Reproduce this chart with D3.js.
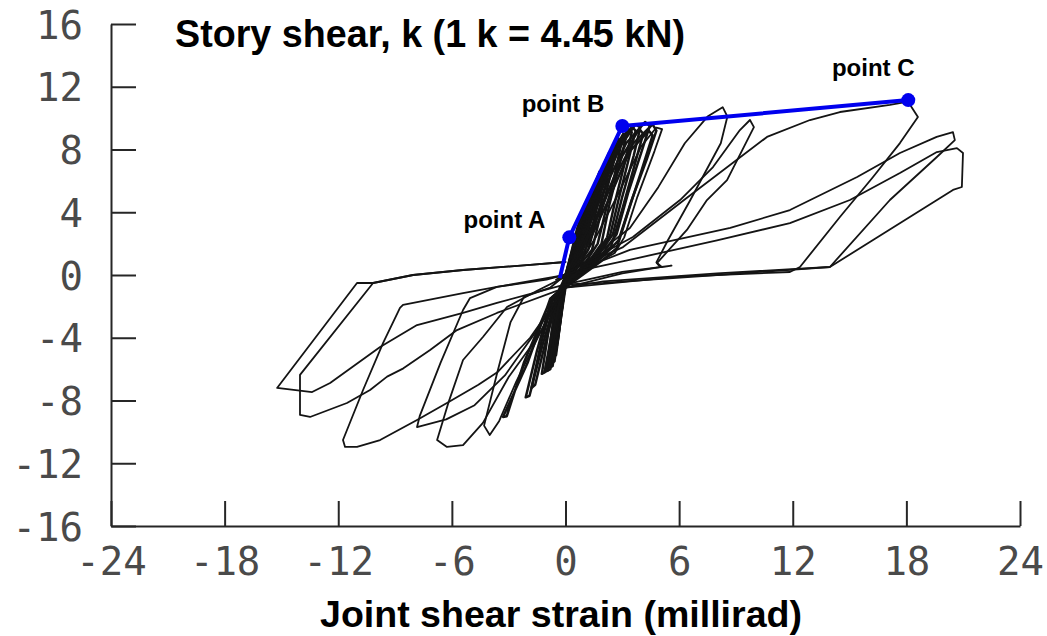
<!DOCTYPE html>
<html>
<head>
<meta charset="utf-8">
<script src="https://cdn.jsdelivr.net/npm/d3@7"></script>
<style>
  html, body { margin: 0; padding: 0; background: #fff; }
  svg { display: block; }
</style>
</head>
<body>
<svg id="chart" width="1047" height="636"></svg>
<script>
// Axis ticks
const xTicks = [-24, -18, -12, -6, 0, 6, 12, 18, 24];
const xTickLabels = ["-24", "-18", "-12", "-6", "0", "6", "12", "18", "24"];
const yTicks = [-16, -12, -8, -4, 0, 4, 8, 12, 16];
const yTickLabels = ["-16", "-12", "-8", "-4", "0", "4", "8", "12", "16"];

// Recorded hysteresis: [joint shear strain (millirad), story shear (k)]
// Early small-amplitude cycles around the origin
const earlyCycles = [
  [[0,0],[0.3,1.4],[0.6,2.9],[0.8,3.6],[0.9,3.3],[0.7,2.0],[0.4,0.6],[0.1,-0.3],[-0.2,-1.6],[-0.35,-3.2],[-0.3,-3.0],[-0.1,-1.4],[0,0]],
  [[0,-0.1],[0.4,1.8],[0.8,3.6],[1.1,4.6],[1.25,4.4],[1.0,3.0],[0.6,1.2],[0.2,0.1],[-0.15,-1.0],[-0.35,-3.0],[-0.5,-4.4],[-0.42,-4.3],[-0.2,-2.2],[0,-0.3]],
  [[0,0],[0.5,2.1],[0.9,3.8],[1.2,4.9],[1.35,4.7],[1.1,3.2],[0.8,1.6],[0.4,0.4],[-0.1,-0.6],[-0.3,-2.2],[-0.45,-4.0],[-0.38,-3.8],[-0.15,-1.8],[0.05,-0.2]],
  [[0,-0.2],[0.55,2.3],[1.0,4.0],[1.4,5.4],[1.65,6.1],[1.8,5.8],[1.4,4.0],[1.0,2.2],[0.5,0.6],[-0.2,-0.7],[-0.45,-3.4],[-0.6,-5.2],[-0.5,-5.1],[-0.25,-2.8],[0,-0.4]],
  [[0,-0.2],[0.6,2.2],[1.1,4.2],[1.5,5.6],[1.8,6.6],[1.95,6.3],[1.6,4.6],[1.2,2.8],[0.8,1.2],[0.3,0.3],[-0.2,-0.7],[-0.4,-2.6],[-0.55,-4.6],[-0.45,-4.5],[-0.2,-2.4],[0.05,-0.4]],
  [[-0.05,-0.3],[0.65,2.4],[1.2,4.4],[1.7,6.0],[2.05,7.1],[2.2,6.8],[1.8,5.0],[1.4,3.0],[0.9,1.0],[-0.25,-0.8],[-0.5,-3.6],[-0.7,-5.6],[-0.58,-5.5],[-0.3,-3.0],[-0.05,-0.5]],
  [[0,-0.3],[0.7,2.4],[1.3,4.7],[1.9,6.7],[2.3,7.8],[2.45,7.5],[2.1,5.6],[1.6,3.4],[1.2,1.6],[0.6,0.5],[-0.3,-0.8],[-0.5,-2.8],[-0.65,-5.0],[-0.55,-4.9],[-0.3,-2.6],[0,-0.5]],
  [[-0.1,-0.4],[0.75,2.5],[1.4,4.8],[2.0,6.8],[2.55,8.3],[2.7,8.0],[2.3,6.0],[1.8,3.6],[1.4,1.6],[-0.3,-0.9],[-0.6,-3.8],[-0.8,-5.9],[-0.68,-5.8],[-0.35,-3.2],[-0.1,-0.6]],
  [[-0.1,-0.4],[0.8,2.5],[1.5,5.0],[2.2,7.3],[2.8,8.7],[2.95,8.4],[2.6,6.4],[2.1,4.0],[1.7,2.0],[1.0,0.7],[-0.3,-0.9],[-0.55,-3.0],[-0.75,-5.3],[-0.62,-5.2],[-0.35,-2.8],[-0.1,-0.6]],
  [[-0.1,-0.5],[0.85,2.6],[1.6,5.1],[2.4,7.6],[3.05,9.0],[3.2,8.8],[2.8,6.8],[2.3,4.4],[1.9,2.0],[1.2,0.8],[-0.35,-1.0],[-0.7,-4.0],[-0.95,-6.1],[-0.8,-6.0],[-0.45,-3.3],[-0.1,-0.7]],
  [[-0.1,-0.5],[0.9,2.6],[1.7,5.3],[2.6,7.9],[3.3,9.3],[3.5,9.1],[3.1,7.0],[2.6,4.6],[2.2,2.4],[1.4,0.9],[-0.35,-1.0],[-0.6,-3.2],[-0.85,-5.6],[-0.7,-5.5],[-0.4,-3.0],[-0.1,-0.7]],
  [[-0.15,-0.6],[0.95,2.6],[1.8,5.3],[2.75,8.1],[3.5,9.45],[3.7,9.2],[3.3,7.2],[2.8,4.8],[2.35,2.5],[1.5,0.9],[-0.4,-1.1],[-0.8,-4.2],[-1.1,-6.2],[-0.95,-6.1],[-0.5,-3.4],[-0.15,-0.8]],
  [[-0.2,-0.6],[1.0,2.6],[1.9,5.4],[2.9,8.2],[3.7,9.6],[3.95,9.4],[3.6,7.6],[3.0,5.0],[2.5,2.6],[1.6,1.0],[-0.4,-1.1],[-0.7,-3.4],[-1.0,-5.9],[-0.85,-5.8],[-0.5,-3.2],[-0.2,-0.8]],
  [[-0.2,-0.7],[1.1,2.7],[2.1,5.6],[3.2,8.4],[4.2,9.75],[4.45,9.5],[4.0,7.8],[3.3,5.2],[2.7,2.6],[1.8,1.1],[-0.5,-1.2],[-0.9,-3.6],[-1.25,-6.3],[-1.1,-6.2],[-0.6,-3.4],[-0.2,-0.9]],
  [[-0.2,-0.8],[1.2,2.6],[2.3,5.5],[3.5,8.3],[4.6,9.6],[4.8,9.2],[4.3,7.4],[3.5,4.8],[2.8,2.2],[2.0,1.2],[-0.6,-1.3],[-1.3,-4.4],[-1.8,-7.2],[-1.6,-7.0],[-1.0,-4.0],[-0.3,-1.0]],
  [[-0.3,-0.9],[0.9,1.6],[2.0,4.5],[3.0,7.6],[3.9,9.3],[4.1,9.0],[3.6,6.8],[3.0,4.2],[2.4,1.8],[1.7,1.0],[-0.7,-1.4],[-1.5,-4.8],[-2.1,-7.8],[-1.9,-7.7],[-1.2,-4.4],[-0.4,-1.1]],
  [[-0.3,-1.0],[1.0,1.5],[2.2,4.6],[3.4,7.9],[4.4,9.2],[4.6,8.9],[4.0,6.6],[3.3,4.0],[2.7,1.7],[1.9,0.9],[-0.8,-1.5],[-2.0,-5.6],[-3.3,-9.05],[-3.1,-9.0],[-2.2,-5.6],[-0.8,-1.6],[-0.2,-0.9]]
];

// Intermediate cycles
const midCycles = [
  [[-0.5,-0.3],[1.5,1.2],[3.4,3.0],[4.9,5.6],[6.3,8.4],[7.5,10.1],[8.3,10.7],[8.55,10.1],[8.2,8.4],[6.6,4.8],[5.4,2.2],[4.8,0.8],[5.1,0.5],[5.6,0.6],[3.0,0.2],[0.0,-0.6],[-1.3,-3.6],[-2.6,-6.8],[-3.5,-9.3],[-4.0,-10.2],[-4.3,-9.6],[-3.6,-6.2],[-2.9,-3.0],[-2.2,-1.4],[-0.8,-0.8],[0.3,0.3]],
  [[0.3,0.3],[2.0,1.4],[3.56,2.42],[6.05,4.78],[7.79,6.88],[9.21,9.24],[9.74,9.88],[9.95,9.43],[8.53,6.05],[7.47,4.78],[6.41,2.87],[4.83,0.76],[5.0,0.5],[3.0,0.1],[0.0,-0.8],[-1.5,-4.0],[-3.0,-6.5],[-4.36,-9.43],[-5.41,-10.84],[-6.26,-10.96],[-6.78,-10.52],[-6.2,-8.2],[-5.41,-5.42],[-4.36,-3.95],[-3.09,-2.04],[-1.5,-1.0],[0.5,0.2]],
  [[0.5,0.3],[1.6,2.4],[2.8,5.2],[4.0,8.2],[4.8,9.4],[5.1,9.3],[4.7,7.9],[3.8,5.0],[3.1,2.4],[2.6,1.4],[1.0,0.3],[0,-0.8],[-1.5,-3.5],[-3.2,-6.4],[-4.8,-8.3],[-6.3,-9.2],[-7.84,-9.69],[-7.7,-9.0],[-6.6,-5.6],[-5.41,-2.23],[-5.04,-1.47],[-3.62,-0.76],[-1.0,-0.3],[0.5,0.2]]
];

// Large-amplitude cycles
const lateCycles = [
  [[0.5,0.4],[3.04,1.78],[6.5,5.0],[10.64,8.80],[12.91,9.88],[14.49,10.39],[17.13,10.84],[18.09,11.05],[18.61,10.07],[17.66,8.41],[16.24,6.25],[14.49,3.70],[12.38,0.51],[11.85,0.19],[6.0,-0.1],[0.0,-0.8],[-1.87,-4.0],[-3.6,-6.2],[-4.6,-7.0],[-6.26,-8.16],[-7.84,-9.24],[-9.79,-10.52],[-11.01,-10.96],[-11.64,-10.96],[-11.75,-10.52],[-10.69,-7.33],[-9.63,-4.33],[-8.74,-2.10],[-8.58,-1.91],[-5.41,-1.15],[-3.62,-0.76],[0.0,0.0]],
  [[0.0,0.0],[3.4,1.6],[8.7,3.0],[11.85,4.14],[15.4,6.25],[17.66,7.78],[19.6,8.8],[20.46,9.11],[20.56,8.60],[19.61,7.52],[17.13,4.78],[13.96,0.51],[8.0,0.1],[2.0,-0.4],[0.0,-0.8],[-3.62,-2.42],[-5.73,-3.51],[-7.15,-4.78],[-8.56,-5.95],[-9.42,-6.48],[-10.32,-7.33],[-11.54,-8.16],[-13.49,-9.05],[-14.02,-8.92],[-14.02,-6.37],[-10.16,-0.51],[-8.05,0.0],[-5.41,0.32],[-1.87,0.64],[0.0,0.83]],
  [[0.8,0.3],[3.5,1.0],[8.0,2.2],[11.85,3.31],[15.02,4.78],[17.66,6.50],[19.61,7.84],[20.67,8.09],[20.99,7.78],[20.93,5.61],[20.46,5.42],[16.24,2.23],[13.96,0.51],[8.0,0.0],[2.0,-0.5],[0.0,-0.6],[-3.62,-1.78],[-5.41,-2.42],[-7.84,-3.19],[-9.79,-4.59],[-12.43,-6.88],[-13.38,-7.46],[-15.23,-7.20],[-11.01,-0.51],[-10.16,-0.51],[-8.05,0.0],[-5.41,0.32],[-1.87,0.64],[0.0,0.83]]
];

// Idealised backbone through points A, B and C
const backbone = [[-0.3, -0.2], [0.2, 2.4], [3.0, 9.5], [18.1, 11.15]];
const pointNames = ["point A", "point B", "point C"];

const svg = d3.select("#chart");
const x = d3.scaleLinear().domain([-24, 24]).range([111, 1020]);
const y = d3.scaleLinear().domain([-16, 16]).range([526, 24]);

const axisColor = "#262626";
const tickFont = "'DejaVu Sans Mono', 'Liberation Mono', monospace";

// Y axis (ticks point into the plot)
const gy = svg.append("g")
  .attr("transform", `translate(${x(-24)},0)`)
  .call(d3.axisLeft(y).tickValues(yTicks).tickSize(-25).tickSizeOuter(0).tickPadding(28)
    .tickFormat((d, i) => yTickLabels[i]));

// X axis (ticks point into the plot)
const gx = svg.append("g")
  .attr("transform", `translate(0,${y(-16)})`)
  .call(d3.axisBottom(x).tickValues(xTicks).tickSize(-25).tickSizeOuter(0).tickPadding(21)
    .tickFormat((d, i) => xTickLabels[i]));

[gx, gy].forEach(g => {
  g.select(".domain").attr("stroke", axisColor).attr("stroke-width", 2);
  g.selectAll(".tick line").attr("stroke", axisColor).attr("stroke-width", 2);
  g.selectAll(".tick text")
    .attr("fill", "#4a4a4a")
    .style("font-family", tickFont)
    .style("font-size", "39px");
});
gy.selectAll(".tick text").attr("dy", "0.36em");

// Hysteresis traces: the dense early cycles are drawn heavier
const line = d3.line().x(d => x(d[0])).y(d => y(d[1]));
const traceGroups = [
  { cycles: earlyCycles, width: 2.5 },
  { cycles: midCycles, width: 1.8 },
  { cycles: lateCycles, width: 1.8 }
];
const traces = svg.append("g")
  .attr("fill", "none")
  .attr("stroke", "#141414")
  .attr("stroke-linejoin", "round")
  .attr("stroke-linecap", "round");
traceGroups.forEach(grp => {
  traces.append("g")
    .attr("stroke-width", grp.width)
    .selectAll("path")
    .data(grp.cycles)
    .join("path")
    .attr("d", line);
});

// Backbone
const blue = "#0000ee";
svg.append("path")
  .datum(backbone)
  .attr("fill", "none")
  .attr("stroke", blue)
  .attr("stroke-width", 4)
  .attr("stroke-linejoin", "round")
  .attr("d", line);

const keyPoints = backbone.slice(1);
svg.append("g").selectAll("circle")
  .data(keyPoints)
  .join("circle")
  .attr("cx", d => x(d[0]))
  .attr("cy", d => y(d[1]))
  .attr("r", 7)
  .attr("fill", blue);

const labelFont = "'Liberation Sans', Arial, sans-serif";
const labelOffsets = [
  { dx: -24, dy: -9, anchor: "end" },
  { dx: -18, dy: -14, anchor: "end" },
  { dx: -35, dy: -24, anchor: "middle" }
];
svg.append("g").selectAll("text")
  .data(keyPoints)
  .join("text")
  .attr("x", (d, i) => x(d[0]) + labelOffsets[i].dx)
  .attr("y", (d, i) => y(d[1]) + labelOffsets[i].dy)
  .attr("text-anchor", (d, i) => labelOffsets[i].anchor)
  .style("font-family", labelFont)
  .style("font-weight", "bold")
  .style("font-size", "24px")
  .text((d, i) => pointNames[i]);

// Titles
svg.append("text")
  .attr("x", 175)
  .attr("y", 47)
  .attr("textLength", 510)
  .attr("lengthAdjust", "spacingAndGlyphs")
  .style("font-family", labelFont)
  .style("font-weight", "bold")
  .style("font-size", "38px")
  .text("Story shear, k (1 k = 4.45 kN)");

svg.append("text")
  .attr("x", 320)
  .attr("y", 627)
  .attr("textLength", 482)
  .attr("lengthAdjust", "spacingAndGlyphs")
  .style("font-family", labelFont)
  .style("font-weight", "bold")
  .style("font-size", "36px")
  .text("Joint shear strain (millirad)");
</script>
</body>
</html>
